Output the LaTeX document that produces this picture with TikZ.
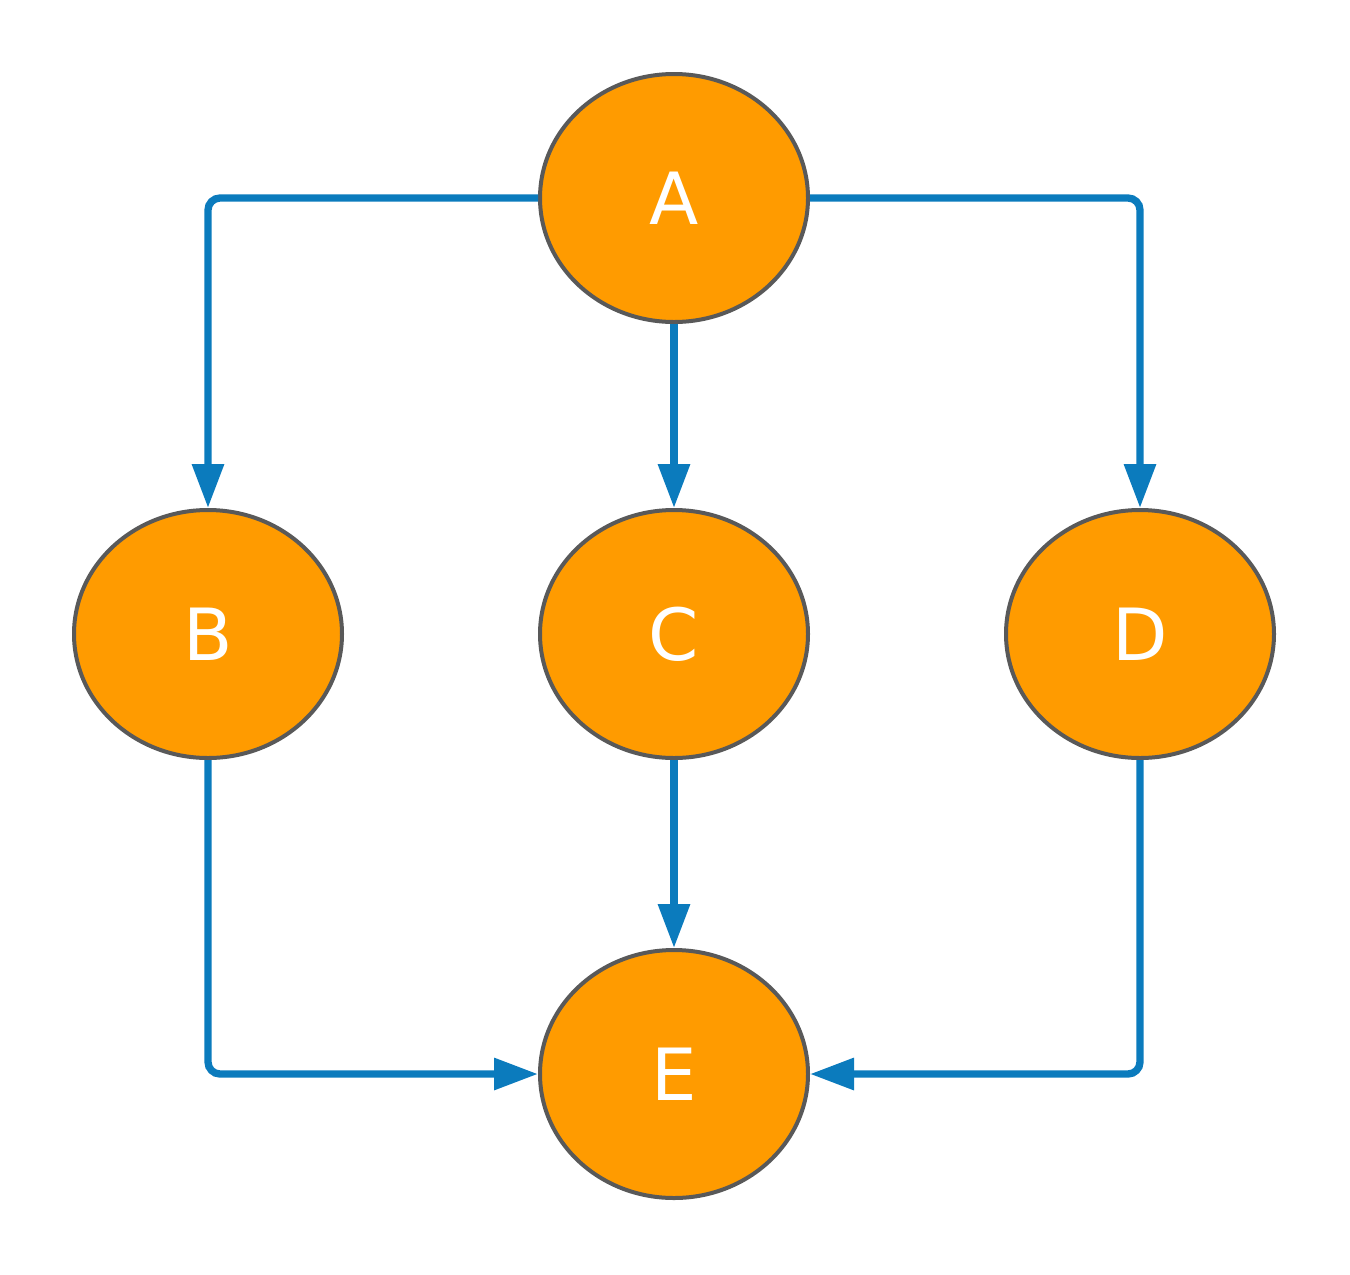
\documentclass[tikz,border=0pt]{standalone}
\usepackage{fontspec}
\setsansfont{DejaVu Sans}
\usetikzlibrary{arrows.meta,shapes.geometric}
\definecolor{nodefill}{HTML}{FF9B00}
\definecolor{nodeline}{HTML}{595959}
\definecolor{edgeblue}{HTML}{0B7BBD}
\tikzset{
  circnode/.style={ellipse, draw=nodeline, line width=3pt, fill=nodefill,
    minimum width=201pt, minimum height=186pt, inner sep=0pt,
    text=white, font=\sffamily\fontsize{54}{54}\selectfont},
  link/.style={draw=edgeblue, line width=5.5pt, rounded corners=9pt,
    -{Triangle[length=33pt,width=23pt]}}
}
\begin{document}
\begin{tikzpicture}[x=0.75pt,y=-0.75pt]
\useasboundingbox (0,0) rectangle (1350,1275);
\node[circnode] (A) at (674,198) {A};
\node[circnode] (B) at (208,634) {B};
\node[circnode] (C) at (674,634) {C};
\node[circnode] (D) at (1140,634) {D};
\node[circnode] (E) at (674,1074) {E};
\draw[link] (A.west) -| (B.north);
\draw[link] (A.south) -- (C.north);
\draw[link] (A.east) -| (D.north);
\draw[link] (C.south) -- (E.north);
\draw[link] (B.south) |- (E.west);
\draw[link] (D.south) |- (E.east);
\end{tikzpicture}
\end{document}
